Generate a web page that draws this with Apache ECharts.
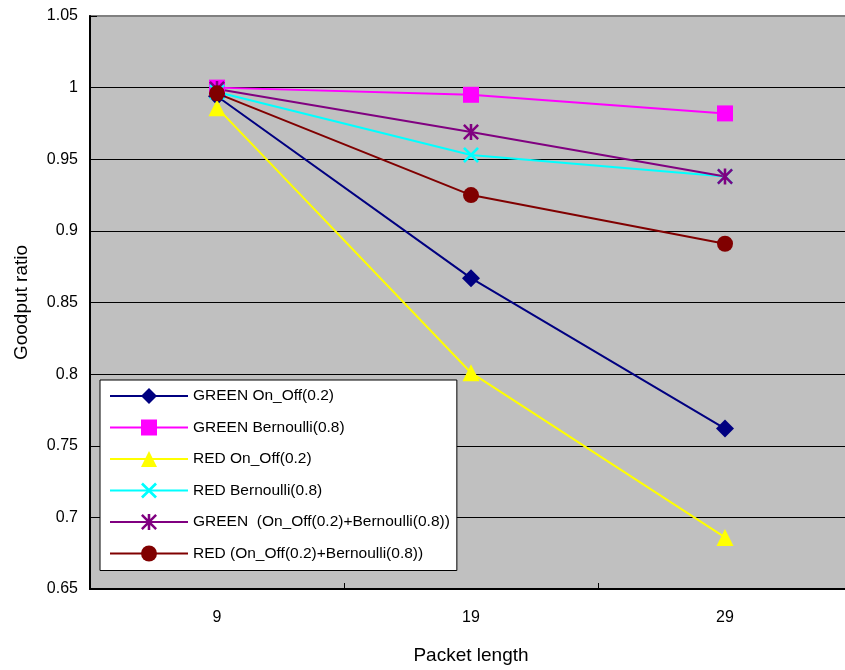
<!DOCTYPE html>
<html>
<head>
<meta charset="utf-8">
<script src="https://cdn.jsdelivr.net/npm/echarts@6/dist/echarts.min.js"></script>
<style>
  html, body { margin: 0; padding: 0; background: #ffffff; }
  #chart { width: 845px; height: 670px; }
</style>
</head>
<body>
<div id="chart"></div>
<script>
// Packet lengths on the category axis
const packetLengths = ['9', '19', '29'];

// Goodput ratio per scheme
const greenOnOff     = [0.994, 0.867, 0.762];
const greenBernoulli = [1.000, 0.995, 0.982];
const redOnOff       = [0.986, 0.801, 0.686];
const redBernoulli   = [0.997, 0.953, 0.938];
const greenCombined  = [0.999, 0.969, 0.938];
const redCombined    = [0.996, 0.925, 0.891];

// Value axis range
const yMin = 0.65;
const yMax = 1.05;
const yStep = 0.05;

const seriesNames = [
  'GREEN On_Off(0.2)',
  'GREEN Bernoulli(0.8)',
  'RED On_Off(0.2)',
  'RED Bernoulli(0.8)',
  'GREEN  (On_Off(0.2)+Bernoulli(0.8))',
  'RED (On_Off(0.2)+Bernoulli(0.8))'
];

const FONT = '"Liberation Sans", Arial, sans-serif';

// Marker shapes
const crossPath = 'path://M0,12 L12,0 L50,38 L88,0 L100,12 L62,50 L100,88 L88,100 L50,62 L12,100 L0,88 L38,50 Z';
const starPath = 'path://M0,11 L11,0 L50,39 L89,0 L100,11 L61,50 L100,89 L89,100 L50,61 L11,100 L0,89 L39,50 Z M42,0 L58,0 L58,100 L42,100 Z';

function makeSeries(name, values, color, symbol, size) {
  return {
    name: name,
    type: 'line',
    data: values,
    symbol: symbol,
    symbolSize: size,
    showAllSymbol: true,
    lineStyle: { color: color, width: 2 },
    itemStyle: { color: color },
    emphasis: { disabled: true },
    animation: false
  };
}

const chart = echarts.init(document.getElementById('chart'), null, { renderer: 'canvas' });

chart.setOption({
  animation: false,
  textStyle: { fontFamily: FONT, color: '#000' },
  grid: {
    left: 90,
    top: 16,
    width: 762,
    height: 573,
    outerBoundsMode: 'none',
    containLabel: false,
    show: true,
    backgroundColor: '#c0c0c0',
    borderColor: '#808080',
    borderWidth: 2
  },
  legend: {
    orient: 'vertical',
    left: 100,
    top: 380,
    padding: [8, 7, 9, 9],
    itemWidth: 78,
    itemHeight: 20,
    itemGap: 15.5,
    backgroundColor: '#ffffff',
    borderColor: '#000000',
    borderWidth: 1,
    selectedMode: false,
    textStyle: { fontFamily: FONT, fontSize: 15.5, color: '#000' },
    data: seriesNames
  },
  xAxis: {
    type: 'category',
    data: packetLengths,
    boundaryGap: true,
    name: 'Packet length',
    nameLocation: 'middle',
    nameGap: 57,
    nameTextStyle: { fontFamily: FONT, fontSize: 19, color: '#000' },
    axisLine: { show: true, lineStyle: { color: '#000', width: 2 } },
    axisTick: { show: true, inside: true, length: 6, lineStyle: { color: '#000', width: 1 } },
    axisLabel: { fontFamily: FONT, fontSize: 16, color: '#000', margin: 21 },
    splitLine: { show: false }
  },
  yAxis: {
    type: 'value',
    min: yMin,
    max: yMax,
    interval: yStep,
    name: 'Goodput ratio',
    nameLocation: 'middle',
    nameGap: 59,
    nameTextStyle: { fontFamily: FONT, fontSize: 19, color: '#000' },
    axisLine: { show: true, lineStyle: { color: '#000', width: 2 } },
    axisTick: { show: true, inside: true, length: 7, lineStyle: { color: '#000', width: 1 } },
    axisLabel: {
      fontFamily: FONT, fontSize: 16, color: '#000', margin: 12,
      formatter: v => String(+v.toFixed(2))
    },
    splitLine: {
      show: true,
      showMaxLine: false,
      showMinLine: false,
      lineStyle: { color: '#000', width: 1 }
    }
  },
  series: [
    makeSeries(seriesNames[0], greenOnOff, '#000080', 'diamond', 18),
    makeSeries(seriesNames[1], greenBernoulli, '#ff00ff', 'rect', 16),
    makeSeries(seriesNames[2], redOnOff, '#ffff00', 'triangle', 17),
    makeSeries(seriesNames[3], redBernoulli, '#00ffff', crossPath, 16),
    makeSeries(seriesNames[4], greenCombined, '#800080', starPath, 16),
    makeSeries(seriesNames[5], redCombined, '#800000', 'circle', 16)
  ]
});
</script>
</body>
</html>
